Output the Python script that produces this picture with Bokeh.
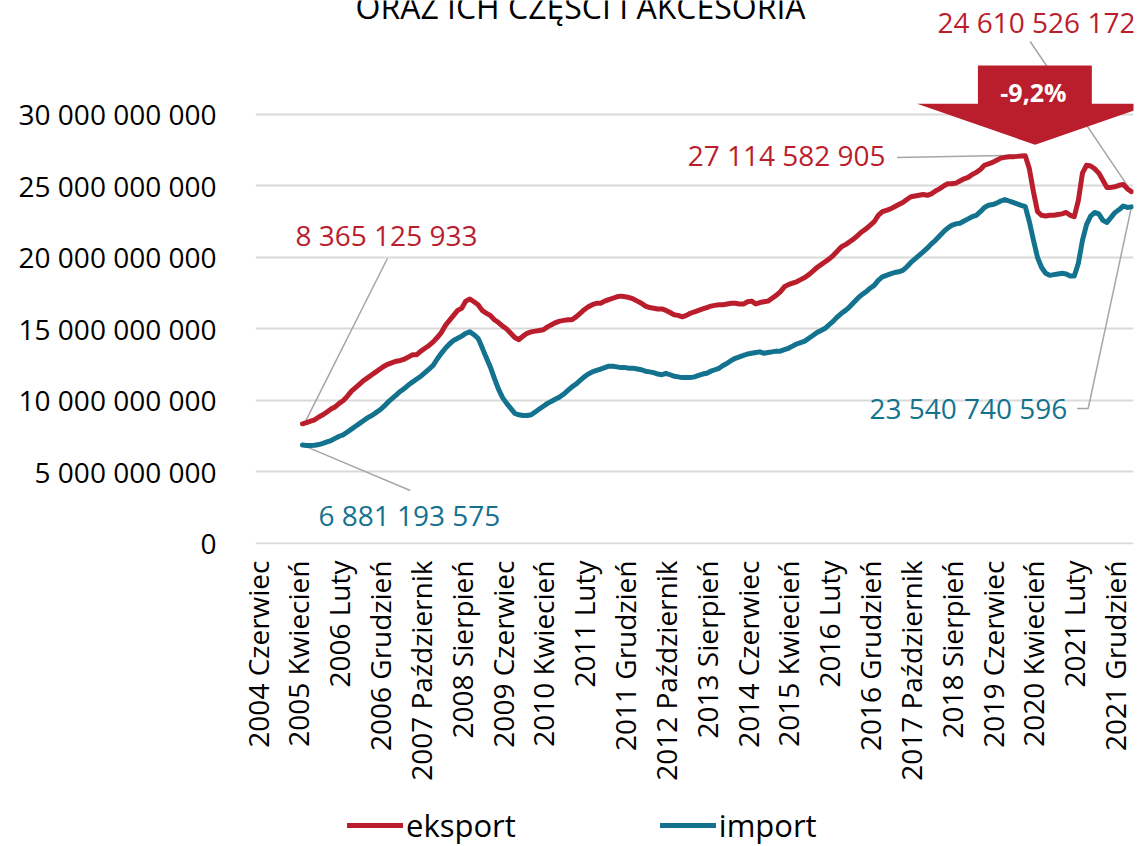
import math
from bokeh.plotting import figure
from bokeh.layouts import column
from bokeh.models import Range1d, FixedTicker, Label, Legend, LegendItem, PolyAnnotation
from bokeh.embed import file_html
from bokeh.resources import INLINE

# ---------------- data ----------------
MONTHS = ["Styczeń", "Luty", "Marzec", "Kwiecień", "Maj", "Czerwiec", "Lipiec",
          "Sierpień", "Wrzesień", "Październik", "Listopad", "Grudzień"]
# monthly categories: 2004 Czerwiec ... 2022 Kwiecień
categories = [f"{2004 + (5 + k) // 12} {MONTHS[(5 + k) % 12]}" for k in range(215)]
tick_positions = list(range(0, 215, 10))

first_index = 11  # first month with a value (2005 Maj)

# 12-month rolling values, billions PLN
eksport = [
    8.37, 8.45, 8.55, 8.65, 8.85, 9.0, 9.2, 9.4, 9.55, 9.8,
    10.0, 10.3, 10.65, 10.9, 11.15, 11.4, 11.6, 11.8, 12.0, 12.2,
    12.4, 12.55, 12.65, 12.75, 12.8, 12.9, 13.05, 13.2, 13.2, 13.45,
    13.65, 13.85, 14.1, 14.4, 14.75, 15.25, 15.6, 15.95, 16.3, 16.45,
    16.95, 17.1, 16.9, 16.7, 16.3, 16.1, 15.95, 15.65, 15.45, 15.2,
    15.0, 14.7, 14.4, 14.25, 14.5, 14.7, 14.8, 14.85, 14.9, 14.95,
    15.15, 15.3, 15.45, 15.55, 15.6, 15.65, 15.65, 15.85, 16.1, 16.35,
    16.55, 16.7, 16.8, 16.8, 16.95, 17.05, 17.15, 17.25, 17.3, 17.25,
    17.2, 17.1, 16.95, 16.8, 16.6, 16.5, 16.45, 16.4, 16.4, 16.3,
    16.15, 16.0, 15.95, 15.85, 15.95, 16.1, 16.2, 16.3, 16.4, 16.5,
    16.6, 16.65, 16.7, 16.7, 16.75, 16.8, 16.8, 16.75, 16.75, 16.9,
    16.95, 16.75, 16.85, 16.9, 16.95, 17.15, 17.35, 17.6, 17.95, 18.1,
    18.2, 18.3, 18.45, 18.6, 18.8, 19.05, 19.3, 19.5, 19.7, 19.9,
    20.15, 20.45, 20.75, 20.9, 21.1, 21.3, 21.55, 21.8, 22.0, 22.25,
    22.5, 22.95, 23.2, 23.3, 23.4, 23.55, 23.7, 23.85, 24.05, 24.25,
    24.3, 24.35, 24.4, 24.35, 24.45, 24.65, 24.8, 25.0, 25.15, 25.15,
    25.2, 25.35, 25.5, 25.6, 25.8, 25.95, 26.15, 26.45, 26.55, 26.65,
    26.8, 26.95, 27.0, 27.05, 27.05, 27.07, 27.1, 27.115, 26.2, 24.6,
    23.2, 22.95, 22.9, 22.95, 22.95, 23.0, 23.05, 23.15, 22.95, 22.85,
    24.0, 25.9, 26.45, 26.4, 26.2, 25.9, 25.4, 24.9, 24.9, 24.95,
    25.05, 25.1, 24.8, 24.61,
]
import_ = [
    6.88, 6.86, 6.85, 6.87, 6.92, 7.0, 7.1, 7.2, 7.35, 7.5,
    7.6, 7.8, 8.0, 8.2, 8.4, 8.6, 8.8, 8.95, 9.15, 9.35,
    9.6, 9.9, 10.15, 10.4, 10.65, 10.85, 11.1, 11.3, 11.5, 11.7,
    11.95, 12.2, 12.45, 12.9, 13.3, 13.65, 13.95, 14.2, 14.35, 14.5,
    14.7, 14.8, 14.6, 14.35, 13.7, 13.0, 12.35, 11.55, 10.8, 10.2,
    9.8, 9.45, 9.1, 9.0, 8.95, 8.95, 9.0, 9.2, 9.4, 9.6,
    9.8, 9.95, 10.1, 10.25, 10.45, 10.7, 10.95, 11.15, 11.4, 11.65,
    11.85, 12.0, 12.1, 12.2, 12.3, 12.4, 12.4, 12.35, 12.3, 12.3,
    12.25, 12.25, 12.2, 12.15, 12.05, 12.0, 11.95, 11.85, 11.8, 11.9,
    11.8, 11.7, 11.65, 11.6, 11.6, 11.6, 11.65, 11.75, 11.85, 11.9,
    12.05, 12.15, 12.25, 12.45, 12.6, 12.8, 12.95, 13.05, 13.15, 13.25,
    13.3, 13.35, 13.4, 13.3, 13.35, 13.4, 13.45, 13.45, 13.55, 13.65,
    13.8, 13.95, 14.05, 14.15, 14.35, 14.55, 14.75, 14.9, 15.05, 15.3,
    15.55, 15.85, 16.1, 16.3, 16.55, 16.85, 17.15, 17.4, 17.6, 17.85,
    18.05, 18.4, 18.65, 18.75, 18.85, 18.95, 19.0, 19.1, 19.35, 19.65,
    19.9, 20.15, 20.4, 20.65, 20.95, 21.2, 21.5, 21.8, 22.05, 22.25,
    22.35, 22.4, 22.55, 22.7, 22.85, 22.95, 23.2, 23.5, 23.65, 23.7,
    23.8, 23.95, 24.05, 23.95, 23.85, 23.75, 23.65, 23.55, 22.5, 21.2,
    20.0, 19.3, 18.9, 18.75, 18.8, 18.85, 18.9, 18.85, 18.7, 18.7,
    19.6, 21.2, 22.3, 22.9, 23.15, 23.05, 22.6, 22.45, 22.8, 23.15,
    23.35, 23.6, 23.5, 23.54,
]
x_idx = list(range(first_index, first_index + len(eksport)))

y_ticks = [0, 5, 10, 15, 20, 25, 30]
y_tick_labels = ["0", "5 000 000 000", "10 000 000 000", "15 000 000 000",
                 "20 000 000 000", "25 000 000 000", "30 000 000 000"]

series_names = ["eksport", "import"]
title_text = "ORAZ ICH CZĘŚCI I AKCESORIA"
change_text = "-9,2%"
first_export_text = "8 365 125 933"
first_import_text = "6 881 193 575"
peak_export_text = "27 114 582 905"
last_export_text = "24 610 526 172"
last_import_text = "23 540 740 596"

# ---------------- style ----------------
RED = "#BA1E2D"
TEAL = "#13738F"
GRAY = "#A6A6A6"
FONT = "Open Sans"

p = figure(width=1138, height=800,
           x_range=Range1d(-0.5, 214.5), y_range=Range1d(-0.07, 37.97),
           output_backend="svg", toolbar_location=None,
           min_border_left=255, min_border_right=5,
           min_border_top=0, min_border_bottom=256)
p.outline_line_color = None
p.background_fill_color = "white"
p.border_fill_color = "white"

# axes
p.xaxis.ticker = FixedTicker(ticks=tick_positions)
p.xaxis.major_label_overrides = {i: categories[i] for i in tick_positions}
p.xaxis.major_label_orientation = math.pi / 2
p.xaxis.axis_line_color = None
p.xaxis.major_tick_line_color = None
p.xaxis.minor_tick_line_color = None
p.xaxis.major_label_standoff = 10
p.xaxis.major_label_text_font = FONT
p.xaxis.major_label_text_font_size = "28px"
p.xaxis.major_label_text_color = "#000000"

p.yaxis.ticker = FixedTicker(ticks=y_ticks)
p.yaxis.major_label_overrides = dict(zip(y_ticks, y_tick_labels))
p.yaxis.axis_line_color = None
p.yaxis.major_tick_line_color = None
p.yaxis.minor_tick_line_color = None
p.yaxis.major_label_standoff = 33
p.yaxis.major_label_text_font = FONT
p.yaxis.major_label_text_font_size = "28px"
p.yaxis.major_label_text_color = "#000000"

p.xgrid.visible = False
p.ygrid.ticker = FixedTicker(ticks=y_ticks)
p.ygrid.grid_line_color = "#D9D9D9"
p.ygrid.grid_line_width = 2

# leader lines
leaders = [
    ([31.8, 11.5], [19.93, 8.40]),
    ([37.4, 11.0], [3.71, 6.88]),
    ([156.6, 188.0], [26.99, 27.15]),
    ([200.7, 203.4, 214.0], [9.44, 9.44, 23.54]),
    ([189.2, 214.0], [35.1, 24.61]),
]
for lx, ly in leaders:
    p.line(lx, ly, line_color=GRAY, line_width=1.5)

# series
r_imp = p.line(x_idx, import_, line_color=TEAL, line_width=5,
               line_cap="round", line_join="round")
r_exp = p.line(x_idx, eksport, line_color=RED, line_width=5,
               line_cap="round", line_join="round")

# arrow
arrow = PolyAnnotation(
    xs=[176.4, 204.3, 204.3, 219.3, 190.4, 161.5, 176.4],
    ys=[33.43, 33.43, 30.75, 30.75, 27.88, 30.75, 30.75],
    fill_color=RED, fill_alpha=1.0, line_color=None)
p.add_layout(arrow)

def lab(x, y, text, color, align="left", size="28px", style="normal", baseline="alphabetic"):
    p.add_layout(Label(x=x, y=y, text=text, text_color=color, text_font=FONT,
                       text_font_size=size, text_align=align, text_baseline=baseline,
                       text_font_style=style))

lab(79.1, 37.55, title_text, "#000000", align="center", size="32px")
lab(214.97, 36.45, last_export_text, RED, align="right")
lab(190.0, 31.55, change_text, "#FFFFFF", align="center", size="25px", style="bold",
    baseline="middle")
lab(9.3, 21.55, first_export_text, RED)
lab(14.9, 1.97, first_import_text, TEAL)
lab(153.8, 27.15, peak_export_text, RED, align="right")
lab(198.3, 9.45, last_import_text, TEAL, align="right")

# legend strip below the chart (proxy renderers lie outside its visible range)
pl = figure(width=1138, height=46, x_range=Range1d(0, 1), y_range=Range1d(0, 1),
            output_backend="svg", toolbar_location=None,
            x_axis_type=None, y_axis_type=None,
            min_border_left=0, min_border_right=0, min_border_top=0, min_border_bottom=0)
pl.outline_line_color = None
pl.xgrid.visible = False
pl.ygrid.visible = False
l_exp = pl.line([-10, -9], [-10, -10], line_color=RED, line_width=5, line_cap="round")
l_imp = pl.line([-10, -9], [-10, -10], line_color=TEAL, line_width=5, line_cap="round")

legend = Legend(items=[LegendItem(label=series_names[0], renderers=[l_exp]),
                       LegendItem(label=series_names[1], renderers=[l_imp])],
                orientation="horizontal", location=(92, 0),
                label_text_font=FONT, label_text_font_size="31px",
                label_text_color="#000000",
                glyph_width=56, glyph_height=32, label_standoff=3,
                spacing=144, padding=0, margin=0,
                border_line_color=None, background_fill_alpha=0)
pl.add_layout(legend)

layout = column(p, pl, spacing=0)

with open("out.html", "w", encoding="utf-8") as f:
    f.write(file_html(layout, INLINE))
